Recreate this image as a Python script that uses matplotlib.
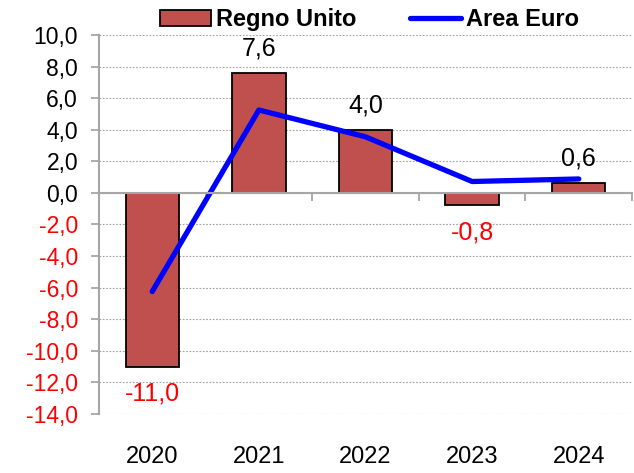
import numpy as np
import matplotlib.pyplot as plt

plt.rcParams['font.family'] = ['Liberation Sans', 'DejaVu Sans']

### Data
years = ['2020', '2021', '2022', '2023', '2024']
regno_unito = [-11.0, 7.6, 4.0, -0.8, 0.6]
area_euro = [-6.25, 5.25, 3.55, 0.72, 0.88]

bar_color = '#C0504D'
line_color = '#0000FF'
axis_gray = '#A6A6A6'

def fmt(v):
    return f"{v:.1f}".replace('.', ',')

### Figure
fig = plt.figure(figsize=(6.34, 4.73), dpi=100)
ax = fig.add_axes([0.156, 0.125, 0.841, 0.801])

x = np.arange(len(years))
bars = ax.bar(x, regno_unito, width=0.5, color=bar_color, edgecolor='black',
              linewidth=1.3, label='Regno Unito', zorder=2)
line, = ax.plot(x, area_euro, color=line_color, linewidth=3.8,
                solid_capstyle='round', label='Area Euro', zorder=3)

# bar value labels
for xi, v in zip(x, regno_unito):
    if v >= 0:
        ax.annotate(fmt(v), (xi, v), xytext=(0, 9), textcoords='offset points',
                    ha='center', va='bottom', fontsize=18, color='black')
    else:
        ax.annotate(fmt(v), (xi, v), xytext=(0, -11), textcoords='offset points',
                    ha='center', va='top', fontsize=18, color='#FF0000')

### Axes styling
ax.set_xlim(-0.5, len(years) - 0.5)
ax.set_ylim(-14, 10)
yt = np.arange(-14, 11, 2)
ax.set_yticks(yt)
ax.set_yticklabels([fmt(v) for v in yt], fontsize=16.5)
for lab, v in zip(ax.get_yticklabels(), yt):
    lab.set_color('#FF0000' if v < 0 else 'black')
ax.tick_params(axis='y', direction='out', length=6, width=1.3, color=axis_gray, pad=9)

ax.spines['top'].set_visible(False)
ax.spines['right'].set_visible(False)
ax.spines['left'].set_color(axis_gray)
ax.spines['left'].set_linewidth(1.5)
ax.spines['bottom'].set_position(('data', 0))
ax.spines['bottom'].set_color(axis_gray)
ax.spines['bottom'].set_linewidth(1.5)
ax.spines['bottom'].set_zorder(4)

ax.set_xticks(np.arange(-0.5, len(years), 1.0))
ax.set_xticklabels([])
ax.tick_params(axis='x', direction='out', length=6, width=1.3, color=axis_gray)

for xi, yr in zip(x, years):
    ax.text(xi, -0.115, yr, transform=ax.get_xaxis_transform(),
            ha='center', va='center', fontsize=17)

ax.yaxis.grid(True, linestyle=(0, (1.5, 1.5)), color='#A0A0A0', linewidth=0.8)
ax.set_axisbelow(True)

fig.legend(handles=[bars, line], loc='center', bbox_to_anchor=(0.583, 0.958),
           ncol=2, frameon=False, prop={'weight': 'bold', 'size': 17},
           handlelength=2.15, handletextpad=0.2, columnspacing=2.3,
           borderaxespad=0)

fig.savefig('out.png', dpi=100)
